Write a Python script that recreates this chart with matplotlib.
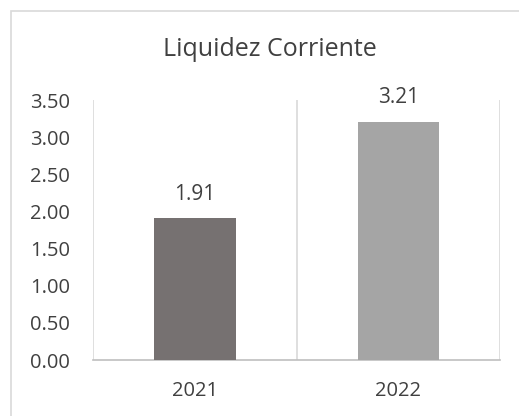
import matplotlib.pyplot as plt
from matplotlib.patches import Rectangle

years = ['2021', '2022']
values = [1.91, 3.21]
colors = ['#767171', '#A5A5A5']
yticks = [0, 0.5, 1, 1.5, 2, 2.5, 3, 3.5]

plt.rcParams['font.family'] = ['Open Sans', 'DejaVu Sans']
W, H = 519, 416
fig = plt.figure(figsize=(W / 100, H / 100), dpi=100)

# chart border (runs off right and bottom like the reference)
fig.patches.append(Rectangle((11 / W, -0.05), 1.2, 1 - 11 / H + 0.05,
                             transform=fig.transFigure, fill=False,
                             edgecolor='#D9D9D9', linewidth=1.2))

ax = fig.add_axes([93.3 / W, 1 - 360 / H, (500 - 93.3) / W, 260 / H])
x = range(len(years))
bars = ax.bar(x, values, width=0.4, color=colors, zorder=3)
for b, v in zip(bars, values):
    ax.text(b.get_x() + b.get_width() / 2, v + 0.18, f'{v:.2f}',
            ha='center', va='bottom', fontsize=15, color='#404040')

ax.set_xlim(-0.5, 1.5)
ax.set_ylim(0, 3.5)
ax.set_yticks(yticks)
ax.set_yticklabels([f'{t:.2f}' for t in yticks])
ax.set_xticks(list(x))
ax.set_xticklabels(years)
for xv in [-0.5, 0.5, 1.5]:
    ax.axvline(xv, color='#D9D9D9', linewidth=1.2, zorder=1)
for s in ['top', 'right', 'left']:
    ax.spines[s].set_visible(False)
ax.spines['bottom'].set_color('#BFBFBF')
ax.spines['bottom'].set_linewidth(1.2)
ax.tick_params(length=0, labelsize=14.5, colors='#404040')
ax.tick_params(axis='x', pad=15)
ax.tick_params(axis='y', pad=17)

fig.text(270 / W, 1 - 50 / H, 'Liquidez Corriente', ha='center', va='center',
         fontsize=18, color='#404040')

fig.savefig('out.png', dpi=100)
